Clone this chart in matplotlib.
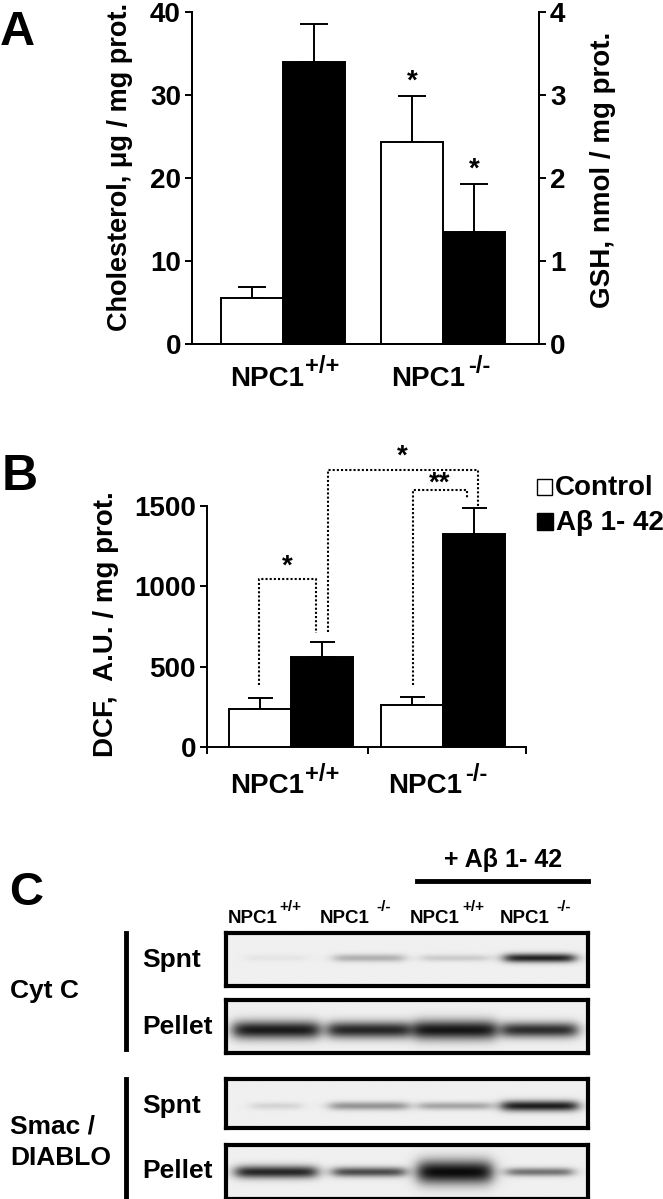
import numpy as np
import matplotlib
matplotlib.use('Agg')
import matplotlib.pyplot as plt
from matplotlib import font_manager as fm
from matplotlib.patches import Rectangle
from matplotlib.lines import Line2D

W, H = 663, 1199
plt.rcParams['font.family'] = ['Liberation Sans', 'DejaVu Sans']
plt.rcParams['font.weight'] = 'bold'
HAS_NARROW = any('Narrow' in f.name for f in fm.fontManager.ttflist)
NARROW = ['Liberation Sans Narrow', 'Liberation Sans', 'DejaVu Sans'] if HAS_NARROW else ['Liberation Sans', 'DejaVu Sans']
LANE_SIZE = 13.5 if HAS_NARROW else 12.3

# ---------------- data ----------------
genotypes = ['NPC1', 'NPC1']
genotype_sups = ['+/+', '-/-']

chol = [5.5, 24.3]          # white bars, left axis
chol_err = [1.35, 5.6]
gsh = [3.40, 1.345]         # black bars, right axis
gsh_err = [0.46, 0.585]
chol_ticks = [0, 10, 20, 30, 40]
gsh_ticks = [0, 1, 2, 3, 4]

dcf_ctrl = [237, 262]
dcf_ctrl_err = [67, 52]
dcf_ab = [558, 1326]
dcf_ab_err = [95, 160]
dcf_ticks = [0, 500, 1000, 1500]

# significance brackets (panel B): left x, right x, left foot, top, right foot, label, label y
br_xl = [-0.21, 0.24, 0.80]
br_xr = [0.166, 1.23, 1.16]
br_yl = [384, 713, 384]
br_top = [1048, 1723, 1600]
br_yr = [707, 1500, 1550]
br_lab = ['*', '*', '**']
br_laby = [1125, 1810, 1640]

lanes = ['NPC1', 'NPC1', 'NPC1', 'NPC1']
lane_sups = ['+/+', '-/-', '+/+', '-/-']
# band darkness per lane (read from the blot)
cytc_spnt = [0.05, 0.28, 0.16, 0.90]
cytc_pellet = [0.93, 0.88, 0.95, 0.85]
smac_spnt = [0.12, 0.40, 0.33, 0.92]
smac_pellet = [0.88, 0.72, 1.00, 0.55]

fig = plt.figure(figsize=(W / 100, H / 100), dpi=100)


def fx(x):
    return x / W


def fy(y):
    return 1 - y / H


def add_ax(x0, y0, x1, y1):
    return fig.add_axes([fx(x0), fy(y1), fx(x1) - fx(x0), (y1 - y0) / H])


def ftext(x, y, s, size=20, **kw):
    return fig.text(fx(x), fy(y), s, fontsize=size, fontweight='bold', **kw)


def suplabel(xr, base, main, sup, size, supsize, rise, gap=1, **kw):
    ftext(xr, base, main, size, ha='right', va='baseline', **kw)
    ftext(xr + gap, base - rise, sup, supsize, ha='left', va='baseline', **kw)


LW = 1.4

# ---------------- panel A ----------------
axA = add_ax(192, 12, 539, 344)
xg = np.arange(len(chol))
bw = 0.39
axA.bar(xg - bw / 2, chol, bw, color='white', edgecolor='black', lw=LW, zorder=3)
axA.errorbar(xg - bw / 2, chol, yerr=[np.zeros(2), chol_err], fmt='none', ecolor='black',
             elinewidth=LW, capsize=10, capthick=LW, zorder=2)
axA.set_ylim(0, 40)
axA.set_xlim(-0.569, 1.6)
axA.set_yticks(chol_ticks)
axA.set_xticks([])
axB2 = axA.twinx()
axB2.bar(xg + bw / 2, gsh, bw, color='black', edgecolor='black', lw=LW, zorder=3)
axB2.errorbar(xg + bw / 2, gsh, yerr=[np.zeros(2), gsh_err], fmt='none', ecolor='black',
              elinewidth=LW, capsize=10, capthick=LW, zorder=2)
axB2.set_ylim(0, 4)
axB2.set_yticks(gsh_ticks)
for a in (axA, axB2):
    a.spines['top'].set_visible(False)
    for s in a.spines.values():
        s.set_linewidth(LW)
    a.tick_params(axis='y', direction='out', length=5, width=LW, labelsize=20, pad=3)
axA.annotate('*', (xg[1] - bw / 2, chol[1] + chol_err[1]), xytext=(0, 1), textcoords='offset points',
             ha='center', va='bottom', fontsize=20, fontweight='bold')
axB2.annotate('*', (xg[1] + bw / 2, gsh[1] + gsh_err[1]), xytext=(0, 1), textcoords='offset points',
              ha='center', va='bottom', fontsize=20, fontweight='bold')

ftext(120, 167, 'Cholesterol, μg / mg prot.', 19.5, rotation=90, ha='center', va='center')
ftext(603, 170, 'GSH, nmol / mg prot.', 20, rotation=90, ha='center', va='center')
suplabel(304, 386, genotypes[0], genotype_sups[0], 20, 17, 13)
suplabel(465, 386, genotypes[1], genotype_sups[1], 20, 17, 13, gap=3)
ftext(0, 45, 'A', 35, ha='left', va='baseline')

# ---------------- panel B ----------------
axB = add_ax(207, 506, 526, 747)
bw2 = 0.41
xl, xr = -0.553, 1.546
axB.bar(xg - bw2 / 2, dcf_ctrl, bw2, color='white', edgecolor='black', lw=LW, zorder=3)
axB.errorbar(xg - bw2 / 2, dcf_ctrl, yerr=[np.zeros(2), dcf_ctrl_err], fmt='none', ecolor='black',
             elinewidth=LW, capsize=9, capthick=LW, zorder=2)
axB.bar(xg + bw2 / 2, dcf_ab, bw2, color='black', edgecolor='black', lw=LW, zorder=3)
axB.errorbar(xg + bw2 / 2, dcf_ab, yerr=[np.zeros(2), dcf_ab_err], fmt='none', ecolor='black',
             elinewidth=LW, capsize=9, capthick=LW, zorder=2)
axB.set_xlim(xl, xr)
axB.set_ylim(0, 1500)
axB.set_yticks(dcf_ticks)
axB.set_xticks([xl, 0.507, xr])
axB.set_xticklabels([])
for s in ('top', 'right'):
    axB.spines[s].set_visible(False)
for s in axB.spines.values():
    s.set_linewidth(LW)
axB.tick_params(direction='out', length=5, width=LW, labelsize=20, pad=3)
for i in range(len(br_lab)):
    axB.plot([br_xl[i], br_xl[i], br_xr[i], br_xr[i]], [br_yl[i], br_top[i], br_top[i], br_yr[i]],
             color='black', lw=1.5, ls=(0, (1, 1)), clip_on=False, zorder=4)
    axB.text((br_xl[i] + br_xr[i]) / 2, br_laby[i], br_lab[i], ha='center', va='center',
             fontsize=20, fontweight='bold', clip_on=False)

ftext(106, 624, 'DCF,  A.U. / mg prot.', 20, rotation=90, ha='center', va='center')
suplabel(304, 793, genotypes[0], genotype_sups[0], 20, 17, 12)
suplabel(462, 793, genotypes[1], genotype_sups[1], 20, 17, 12, gap=3)
ftext(2, 490, 'B', 36, ha='left', va='baseline')

# legend
fig.patches.append(Rectangle((fx(537), fy(495)), 15 / W, 16 / H, transform=fig.transFigure,
                             facecolor='white', edgecolor='black', lw=1.0))
fig.patches.append(Rectangle((fx(537), fy(530)), 16 / W, 17 / H, transform=fig.transFigure,
                             facecolor='black', edgecolor='black', lw=1.0))
ftext(555, 495, 'Control', 20, ha='left', va='baseline')
ftext(556, 530, 'Aβ 1- 42', 20, ha='left', va='baseline')

# ---------------- panel C ----------------
ftext(9, 905, 'C', 34, ha='left', va='baseline')
ftext(503, 867, '+ Aβ 1- 42', 18, ha='center', va='baseline')
fig.add_artist(Line2D([fx(417), fx(588)], [fy(881), fy(881)], color='black', lw=3.5))

lane_right = [278, 370, 460, 550]
lane_gap = [1, 6, 2, 6]
for i in range(4):
    suplabel(lane_right[i], 923, lanes[i], lane_sups[i], LANE_SIZE, 11, 12, gap=lane_gap[i],
             family=NARROW)

bx0, bx1 = 226, 588
lane_c = [276, 369, 455, 540]
blots = [
    # (top, bottom, darkness, band y centre, widths, sigmas)
    (933, 986, cytc_spnt, 958, [60, 70, 67, 70], [2.5, 2.8, 2.5, 3.2]),
    (1000, 1053, cytc_pellet, 1030, [86, 82, 83, 75], [6.5, 6.0, 7.0, 5.5]),
    (1079, 1128, smac_spnt, 1106, [50, 78, 72, 76], [2.6, 3.0, 2.8, 3.8]),
    (1145, 1199, smac_pellet, 1172, [81, 72, 74, 66], [4.5, 3.5, 8.5, 3.0]),
]
xs = np.linspace(bx0, bx1, 400)
for (t, b, dark, yc, widths, sig) in blots:
    ys = np.linspace(t, b, 80)
    X, Y = np.meshgrid(xs, ys)
    img = np.zeros_like(X)
    for k in range(4):
        x0 = lane_c[k] - widths[k] / 2
        x1 = lane_c[k] + widths[k] / 2
        hp = 1 / (1 + np.exp(-(X - x0) / 4)) / (1 + np.exp((X - x1) / 4))
        vp = np.exp(-0.5 * ((Y - yc) / sig[k]) ** 2)
        img += dark[k] * hp * vp
    gray = 0.94 - 0.9 * np.clip(img, 0, 1)
    ax = add_ax(bx0, t, bx1, b)
    ax.imshow(gray, cmap='gray', vmin=0, vmax=1, aspect='auto', interpolation='bilinear',
              extent=[bx0, bx1, b, t])
    ax.set_xticks([])
    ax.set_yticks([])
    for s in ax.spines.values():
        s.set_linewidth(3)

ftext(142, 967, 'Spnt', 19, ha='left', va='baseline')
ftext(142, 1034, 'Pellet', 19, ha='left', va='baseline')
ftext(142, 1113, 'Spnt', 19, ha='left', va='baseline')
ftext(142, 1178, 'Pellet', 19, ha='left', va='baseline')
ftext(10, 998, 'Cyt C', 19, ha='left', va='baseline')
ftext(10, 1133, 'Smac /', 19, ha='left', va='baseline')
ftext(10, 1165, 'DIABLO', 19, ha='left', va='baseline')
fig.add_artist(Line2D([fx(126), fx(126)], [fy(933), fy(1049)], color='black', lw=3.5))
fig.add_artist(Line2D([fx(126), fx(126)], [fy(1079), fy(1199)], color='black', lw=3.5))

fig.savefig('out.png', dpi=100)
